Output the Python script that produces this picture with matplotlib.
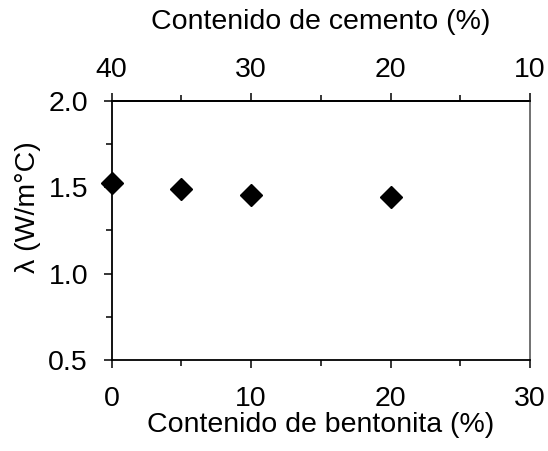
import matplotlib
matplotlib.use("Agg")
import matplotlib.pyplot as plt

plt.rcParams['font.family'] = ['Liberation Sans', 'DejaVu Sans']

bentonita = [0, 5, 10, 20]
conductividad = [1.522, 1.488, 1.455, 1.445]

FS = 20.5

fig = plt.figure(figsize=(5.48, 4.51), dpi=100)
ax = fig.add_axes([111.7 / 548, 1 - 360 / 451, (530 - 111.7) / 548, (360 - 100.7) / 451])

ax.plot(bentonita, conductividad, linestyle='none', marker='D', markersize=11,
        color='black', clip_on=False, zorder=5)

ax.set_xlim(0, 30)
ax.set_ylim(0.5, 2.0)
ax.set_xticks([0, 10, 20, 30])
ax.set_xticks([5, 15, 25], minor=True)
ax.set_yticks([0.5, 1.0, 1.5, 2.0])
ax.set_yticks([0.75, 1.25, 1.75], minor=True)
ax.yaxis.set_major_formatter(matplotlib.ticker.FormatStrFormatter('%.1f'))

ax.tick_params(axis='both', which='major', direction='out', length=6, width=1.1,
               labelsize=FS)
ax.tick_params(axis='both', which='minor', direction='out', length=4, width=1.1)
ax.tick_params(axis='x', which='major', pad=13)
ax.tick_params(axis='y', which='major', pad=11)
ax.spines['right'].set_color('#666666')
for s in ['left', 'bottom', 'top', 'right']:
    ax.spines[s].set_linewidth(1.3)

ax.set_xlabel('Contenido de bentonita (%)', fontsize=FS, labelpad=0)
ax.set_ylabel('λ (W/m°C)', fontsize=FS)
ax.yaxis.set_label_coords(-0.17, 0.59)

top = ax.secondary_xaxis('top', functions=(lambda x: 40 - x, lambda c: 40 - c))
top.set_xticks([40, 30, 20, 10])
top.set_xticks([35, 25, 15], minor=True)
top.tick_params(axis='x', which='major', direction='out', length=6, width=1.1,
                labelsize=FS, pad=7)
top.tick_params(axis='x', which='minor', direction='out', length=4, width=1.1)
top.spines['top'].set_linewidth(1.3)
top.set_xlabel('Contenido de cemento (%)', fontsize=FS, labelpad=20)

fig.savefig('out.png', dpi=100)
